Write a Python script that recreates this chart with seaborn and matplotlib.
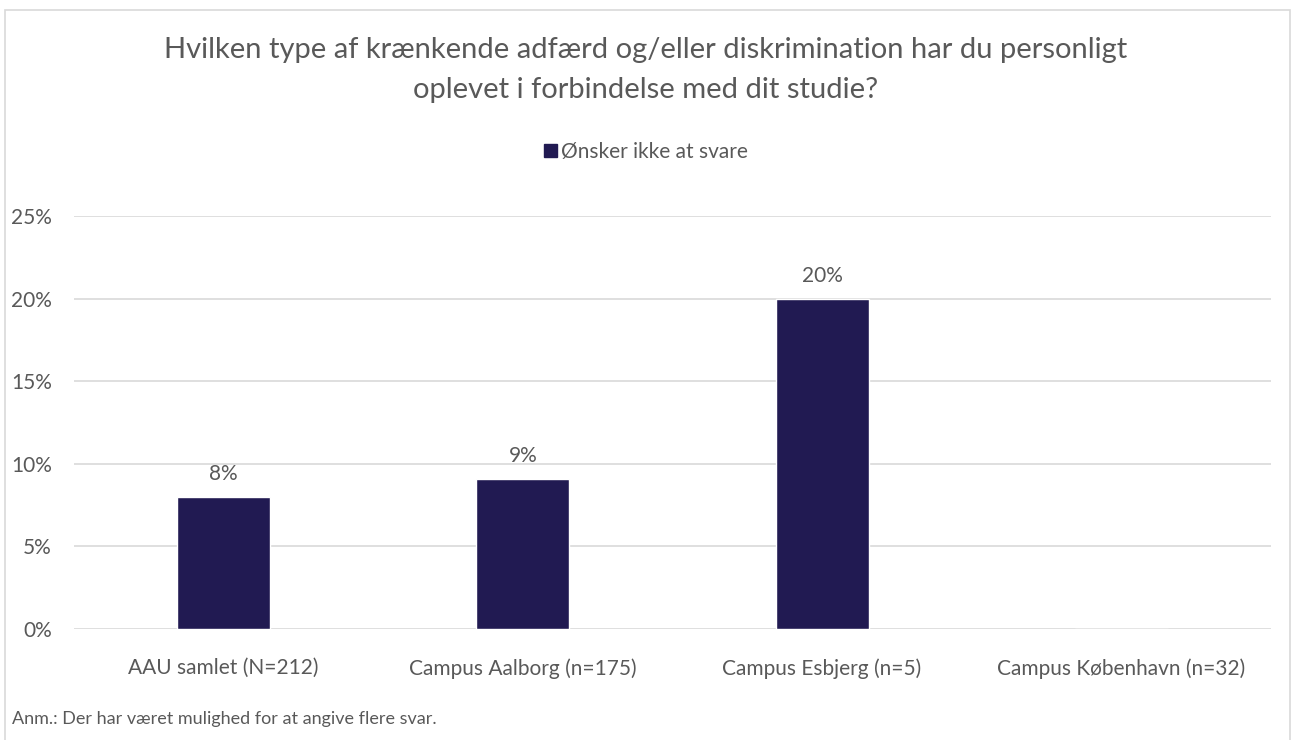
import matplotlib
matplotlib.use("Agg")
import matplotlib.pyplot as plt
import seaborn as sns
import pandas as pd
from matplotlib.patches import Rectangle, Patch

categories = ["AAU samlet (N=212)", "Campus Aalborg (n=175)", "Campus Esbjerg (n=5)", "Campus København (n=32)"]
values = [8.0, 9.1, 20.0, 0.0]
labels = ["8%", "9%", "20%", ""]
series_name = "Ønsker ikke at svare"
yticks = [0, 5, 10, 15, 20, 25]
title = "Hvilken type af krænkende adfærd og/eller diskrimination har du personligt\noplevet i forbindelse med dit studie?"
note = "Anm.: Der har været mulighed for at angive flere svar."

sns.set_theme(style="white")
plt.rcParams["font.family"] = ["Lato", "DejaVu Sans"]

bar_color = "#211A52"
text_color = "#595959"
grid_color = "#D9D9D9"
fs = 15

df = pd.DataFrame({"cat": categories, "val": values})

fig = plt.figure(figsize=(12.92, 7.40), dpi=100)
ax = fig.add_axes([74/1292, (740-629)/740, (1271-74)/1292, (629-216)/740])

sns.barplot(data=df, x="cat", y="val", color=bar_color, width=0.31, ax=ax, saturation=1)

ax.set_ylim(0, 25)
ax.set_yticks(yticks)
ax.set_yticklabels([f"{t}%" for t in yticks], color=text_color, fontsize=fs)
ax.set_xlabel("")
ax.set_ylabel("")
ax.tick_params(axis="x", colors=text_color, labelsize=fs, length=0, pad=21)
ax.tick_params(axis="y", length=0, pad=16)
ax.grid(axis="y", color=grid_color, linewidth=1.2)
ax.set_axisbelow(True)
for s in ax.spines.values():
    s.set_visible(False)

for i, (v, l) in enumerate(zip(values, labels)):
    if l:
        ax.text(i, v + 0.75, l, ha="center", va="bottom", fontsize=fs, color=text_color)

fig.text(0.5, 1 - 70/740, title, ha="center", va="center", fontsize=21, color=text_color, linespacing=1.65)

handle = Patch(facecolor=bar_color, edgecolor=bar_color)
fig.legend([handle], [series_name], loc="center", bbox_to_anchor=(0.5, 1 - 152/740),
           frameon=False, fontsize=fs, handlelength=0.6, handleheight=0.6,
           handletextpad=0.2, labelcolor=text_color)

fig.text(12/1292, 1 - 719/740, note, ha="left", va="center", fontsize=13, color=text_color)

fig.patches.append(Rectangle((5/1292, -0.01), (1290-5)/1292, 1 - 10/740 + 0.01,
                             transform=fig.transFigure, fill=False, edgecolor="#D9D9D9", linewidth=1.2))

fig.savefig("out.png", dpi=100, facecolor="white")
